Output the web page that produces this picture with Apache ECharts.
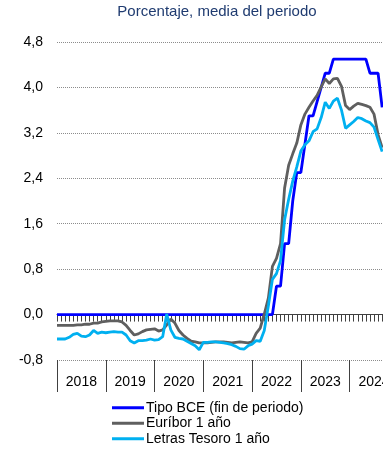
<!DOCTYPE html>
<html>
<head>
<meta charset="utf-8">
<script src="https://cdn.jsdelivr.net/npm/echarts@6/dist/echarts.min.js"></script>
<style>
  html, body { margin: 0; padding: 0; background: #fff; overflow: hidden; }
  /* the plot runs on past the right edge of the window */
  #chart { width: 420px; height: 449px; }
</style>
</head>
<body>
<div id="chart"></div>
<script>
// Years shown on the time axis (monthly points, Jan 2018 onwards)
const years = ['2018', '2019', '2020', '2021', '2022', '2023', '2024'];

// Tick labels for the value axis
const yTicks = [-0.8, 0.0, 0.8, 1.6, 2.4, 3.2, 4.0, 4.8];

// ECB rate, end of period (monthly)
const tipoBCE = [
  0, 0, 0, 0, 0, 0, 0, 0, 0, 0, 0, 0,                 // 2018
  0, 0, 0, 0, 0, 0, 0, 0, 0, 0, 0, 0,                 // 2019
  0, 0, 0, 0, 0, 0, 0, 0, 0, 0, 0, 0,                 // 2020
  0, 0, 0, 0, 0, 0, 0, 0, 0, 0, 0, 0,                 // 2021
  0, 0, 0, 0, 0, 0, 0.5, 0.5, 1.25, 1.25, 2.0, 2.5,   // 2022
  2.5, 3.0, 3.5, 3.5, 3.75, 4.0, 4.25, 4.25, 4.5, 4.5, 4.5, 4.5, // 2023
  4.5, 4.5, 4.5, 4.5, 4.5, 4.25, 4.25, 4.25, 3.65     // 2024
];

// 1-year Euribor, monthly average
const euribor = [
  -0.19, -0.19, -0.19, -0.19, -0.19, -0.18, -0.18, -0.17, -0.17, -0.15, -0.15, -0.13,
  -0.12, -0.11, -0.11, -0.11, -0.13, -0.19, -0.28, -0.36, -0.34, -0.30, -0.27, -0.26,
  -0.25, -0.29, -0.27, -0.18, -0.08, -0.15, -0.28, -0.36, -0.42, -0.47, -0.48, -0.50,
  -0.50, -0.50, -0.49, -0.48, -0.48, -0.48, -0.49, -0.50, -0.49, -0.48, -0.49, -0.50,
  -0.48, -0.33, -0.24, 0.01, 0.29, 0.85, 0.99, 1.25, 2.23, 2.63, 2.83, 3.02,
  3.34, 3.53, 3.65, 3.76, 3.86, 4.01, 4.15, 4.07, 4.15, 4.16, 4.02, 3.68,
  3.61, 3.67, 3.72, 3.70, 3.68, 3.65, 3.53, 3.17, 2.94
];

// 1-year Treasury bills, monthly average
const letras = [
  -0.43, -0.43, -0.43, -0.40, -0.35, -0.33, -0.38, -0.39, -0.36, -0.28, -0.33, -0.31,
  -0.32, -0.31, -0.30, -0.31, -0.31, -0.36, -0.46, -0.50, -0.46, -0.46, -0.45, -0.43,
  -0.45, -0.44, -0.39, 0.01, -0.27, -0.40, -0.42, -0.43, -0.47, -0.51, -0.55, -0.62,
  -0.49, -0.49, -0.48, -0.48, -0.49, -0.50, -0.51, -0.53, -0.56, -0.60, -0.61, -0.55,
  -0.52, -0.46, -0.47, -0.28, 0.15, 0.62, 0.72, 0.95, 1.67, 2.03, 2.35, 2.60,
  2.88, 2.99, 3.06, 3.22, 3.27, 3.47, 3.74, 3.63, 3.76, 3.81, 3.60, 3.28,
  3.34, 3.40, 3.47, 3.45, 3.41, 3.38, 3.30, 3.08, 2.87
];

// Monthly categories, plus the January that closes the last year
const months = [];
years.forEach(y => { for (let m = 1; m <= 12; m++) months.push(y + '-' + String(m).padStart(2, '0')); });
months.push(String(Number(years[years.length - 1]) + 1) + '-01');

const FONT = '"Liberation Sans", Arial, sans-serif';
const AXIS_DARK = '#404040';

const chart = echarts.init(document.getElementById('chart'), null, { renderer: 'canvas' });

chart.setOption({
  animation: false,
  backgroundColor: '#ffffff',
  textStyle: { fontFamily: FONT },
  graphic: [{
    type: 'text',
    x: 217,
    y: 12,
    style: {
      text: 'Porcentaje, media del periodo',
      fill: '#1f3b70',
      font: '15px ' + FONT,
      align: 'center',
      verticalAlign: 'middle'
    }
  }],
  grid: {
    left: 57,
    top: 42,
    height: 318,
    width: 341.4,
    containLabel: false
  },
  legend: {
    orient: 'vertical',
    left: 112,
    top: 400,
    padding: 0,
    itemWidth: 32,
    itemHeight: 3,
    itemGap: 0,
    icon: 'rect',
    textStyle: { fontFamily: FONT, fontSize: 14, color: '#000', lineHeight: 15.5, padding: [0, 0, 0, -3] },
    data: ['Tipo BCE (fin de periodo)', 'Euríbor 1 año', 'Letras Tesoro 1 año']
  },
  xAxis: [{
    type: 'category',
    data: months,
    boundaryGap: false,
    position: 'bottom',
    axisLine: { show: true, lineStyle: { color: AXIS_DARK, width: 1 } },
    axisTick: { show: true, interval: 0, length: 7, lineStyle: { color: AXIS_DARK, width: 1 } },
    axisLabel: { show: false },
    splitLine: { show: false }
  }, {
    type: 'category',
    data: years,
    boundaryGap: true,
    position: 'bottom',
    offset: 0,
    axisLine: { show: false },
    axisTick: { show: true, interval: 0, length: 32, lineStyle: { color: AXIS_DARK, width: 1 } },
    axisLabel: { show: true, interval: 0, margin: 15, fontSize: 14, color: '#000', fontFamily: FONT },
    splitLine: { show: false }
  }],
  yAxis: {
    type: 'value',
    min: yTicks[0],
    max: yTicks[yTicks.length - 1],
    interval: 0.8,
    axisLine: { show: false },
    axisTick: { show: false },
    axisLabel: {
      margin: 14,
      fontSize: 14,
      color: '#000',
      fontFamily: FONT,
      formatter: v => v.toFixed(1).replace('.', ',')
    },
    splitLine: { show: true, lineStyle: { color: '#8c8c8c', type: 'dotted', width: 1 } }
  },
  series: [{
    name: 'Tipo BCE (fin de periodo)',
    type: 'line',
    xAxisIndex: 0,
    data: tipoBCE,
    symbol: 'none',
    lineStyle: { color: '#0000ff', width: 2.8 },
    itemStyle: { color: '#0000ff' }
  }, {
    name: 'Euríbor 1 año',
    type: 'line',
    xAxisIndex: 0,
    data: euribor,
    symbol: 'none',
    lineStyle: { color: '#5f5f5f', width: 2.8 },
    itemStyle: { color: '#5f5f5f' }
  }, {
    name: 'Letras Tesoro 1 año',
    type: 'line',
    xAxisIndex: 0,
    data: letras,
    symbol: 'none',
    lineStyle: { color: '#00b0f0', width: 2.8 },
    itemStyle: { color: '#00b0f0' }
  }]
});
</script>
</body>
</html>
